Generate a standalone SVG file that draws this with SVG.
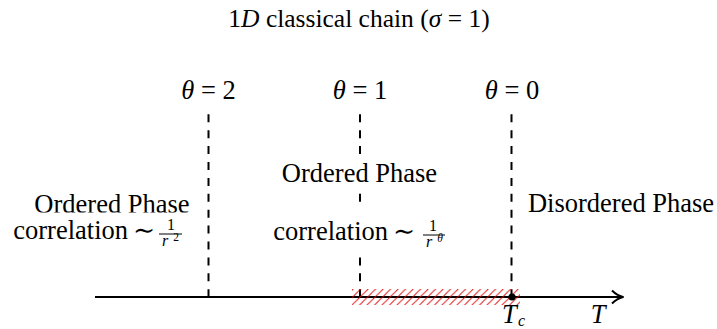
<svg xmlns="http://www.w3.org/2000/svg" width="717" height="329" viewBox="0 0 717 329">
<style>
text{font-family:"Liberation Serif","Times New Roman",Times,"DejaVu Serif","Noto Serif",serif;fill:#000}
.t{font-size:26.5px}
.m{font-style:italic}
.s{font-size:16px}
.dash{stroke:#000;stroke-width:2;stroke-dasharray:8 7.9;fill:none}
.bg{fill:#fff}
</style>
<defs>
<pattern id="hatch" patternUnits="userSpaceOnUse" width="7.5" height="9" patternTransform="skewX(-10)">
<path d="M-1,1.2 L1,-1.2 M0,9 L7.5,0 M6.5,10.2 L8.5,7.8" stroke="#e00000" stroke-width="1"/>
</pattern>
</defs>
<rect width="717" height="329" fill="#fff"/>
<g id="title">
<text x="359" y="27" text-anchor="middle" font-size="25.5">1<tspan class="m">D</tspan> classical chain (<tspan class="m">σ</tspan> = 1)</text>
</g>
<g id="connectors">
<line class="dash" x1="208.5" y1="114.3" x2="208.5" y2="297"/>
<line class="dash" x1="360" y1="114.3" x2="360" y2="297"/>
<line class="dash" x1="511.5" y1="114.3" x2="511.5" y2="297"/>
<line x1="95" y1="297" x2="622" y2="297" stroke="#000" stroke-width="2"/>
<path d="M612,290.5 Q617,295.5 623,297 Q617,298.5 612,303.5" fill="none" stroke="#000" stroke-width="2" stroke-linejoin="round"/>
<rect x="352" y="289" width="168" height="16" fill="url(#hatch)"/>
<circle cx="512" cy="297" r="3.6" fill="#000"/>
</g>
<g id="theta2"><text class="t" x="208.5" y="99" text-anchor="middle"><tspan class="m">θ</tspan> = 2</text></g>
<g id="theta1"><text class="t" x="360" y="99" text-anchor="middle"><tspan class="m">θ</tspan> = 1</text></g>
<g id="theta0"><text class="t" x="512" y="99" text-anchor="middle"><tspan class="m">θ</tspan> = 0</text></g>
<g id="left-ordered">
<text class="t" x="112" y="213" text-anchor="middle">Ordered Phase</text>
</g>
<g id="left-correlation">
<rect class="bg" x="4" y="212.5" width="190" height="40"/>
<text class="t" x="128" y="239" text-anchor="end">correlation</text>
<text class="t" x="133" y="239">∼</text>
<text class="s" x="171" y="230" text-anchor="middle">1</text>
<line x1="159" y1="234" x2="182" y2="234" stroke="#000" stroke-width="1"/>
<text class="s m" x="165" y="246" text-anchor="middle">r</text>
<text x="176" y="241" font-size="11.5" text-anchor="middle">2</text>
</g>
<g id="mid-ordered">
<rect class="bg" x="274" y="156" width="172" height="36"/>
<text class="t" x="359.5" y="182" text-anchor="middle">Ordered Phase</text>
</g>
<g id="mid-correlation">
<rect class="bg" x="266" y="203" width="186" height="53"/>
<text class="t" x="388" y="240" text-anchor="end">correlation</text>
<text class="t" x="393" y="240">∼</text>
<text class="s" x="433" y="231" text-anchor="middle">1</text>
<line x1="423" y1="235" x2="445" y2="235" stroke="#000" stroke-width="1"/>
<text class="s m" x="429" y="247" text-anchor="middle">r</text>
<text x="440" y="242" font-size="11.5" font-style="italic" text-anchor="middle">θ</text>
</g>
<g id="disordered">
<text class="t" x="621" y="212" text-anchor="middle">Disordered Phase</text>
</g>
<g id="Tc"><text class="t m" x="502" y="323">T</text><text class="s m" x="518" y="326">c</text></g>
<g id="T"><text class="t m" x="598" y="323" text-anchor="middle">T</text></g>
</svg>
